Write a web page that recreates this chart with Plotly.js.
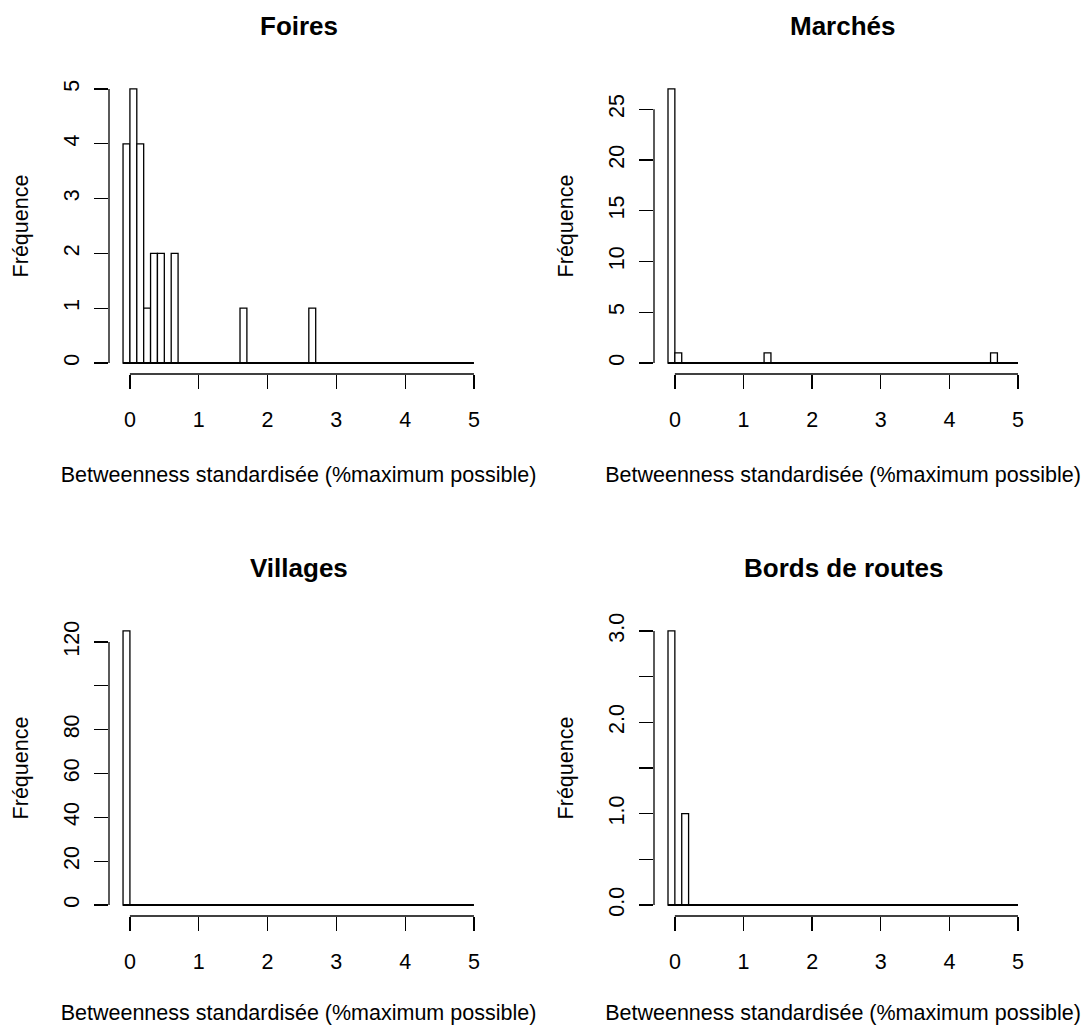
<!DOCTYPE html>
<html><head><meta charset="utf-8">
<script src="https://cdn.plot.ly/plotly-3.0.1.min.js"></script>
<style>html,body{margin:0;padding:0;background:#fff}</style>
</head><body><div id="chart" style="width:1088px;height:1025px"></div>
<script>
// ---- data ----
const panelTitles = ["Foires", "Marchés", "Villages", "Bords de routes"];
const xTitle = "Betweenness standardisée (%maximum possible)";
const yTitle = "Fréquence";
const binWidth = 0.1;
const breakMin = -0.1;
const breakMax = 5.0;
const foiresBins = [-0.1, 0, 0.1, 0.2, 0.3, 0.4, 0.6, 1.6, 2.6];
const foiresCounts = [4, 5, 4, 1, 2, 2, 2, 1, 1];
const marchesBins = [-0.1, 0, 1.3, 4.6];
const marchesCounts = [27, 1, 1, 1];
const villagesBins = [-0.1];
const villagesCounts = [125];
const bordsBins = [-0.1, 0.1];
const bordsCounts = [3, 1];
const xTickVals = [0, 1, 2, 3, 4, 5];
const xTickText = ["0", "1", "2", "3", "4", "5"];
const foiresYTicks = [0, 1, 2, 3, 4, 5];
const foiresYText = ["0", "1", "2", "3", "4", "5"];
const marchesYTicks = [0, 5, 10, 15, 20, 25];
const marchesYText = ["0", "5", "10", "15", "20", "25"];
const villagesYTicks = [0, 20, 40, 60, 80, 100, 120];
const villagesYText = ["0", "20", "40", "60", "80", "", "120"];
const bordsYTicks = [0, 0.5, 1, 1.5, 2, 2.5, 3];
const bordsYText = ["0.0", "", "1.0", "", "2.0", "", "3.0"];

// ---- build ----
const FONT = "Liberation Sans, Arial, Helvetica, sans-serif";
const FS = 21.5;
const panels = [
  {bins: foiresBins, counts: foiresCounts, yt: foiresYTicks, ytt: foiresYText},
  {bins: marchesBins, counts: marchesCounts, yt: marchesYTicks, ytt: marchesYText},
  {bins: villagesBins, counts: villagesCounts, yt: villagesYTicks, ytt: villagesYText},
  {bins: bordsBins, counts: bordsCounts, yt: bordsYTicks, ytt: bordsYText}
];
const W = 1088, H = 1025;
const colPx = [[109, 488], [654, 1032]];
const rowPx = [[78, 374], [620, 916]];

const xPad = 0.04 * (breakMax - breakMin);
const traces = [];
const layout = {
  width: W, height: H,
  margin: {l: 0, r: 0, t: 0, b: 0},
  paper_bgcolor: "#ffffff", plot_bgcolor: "#ffffff",
  showlegend: false, hovermode: false,
  font: {family: FONT, size: FS, color: "#000"},
  shapes: [], annotations: []
};

panels.forEach((p, i) => {
  const n = i + 1;
  const xa = n === 1 ? "x" : "x" + n;
  const ya = n === 1 ? "y" : "y" + n;
  const col = colPx[i % 2], row = rowPx[Math.floor(i / 2)];
  const ymax = Math.max(...p.counts);
  // zero-count bins: flat outline along y = 0 across all breaks
  traces.push({
    type: "scatter", mode: "lines", x: [breakMin, breakMax], y: [0, 0],
    xaxis: xa, yaxis: ya, line: {color: "#000", width: 2}, hoverinfo: "skip"
  });
  traces.push({
    type: "bar", x: p.bins, y: p.counts, width: binWidth, offset: 0,
    xaxis: xa, yaxis: ya,
    marker: {color: "#ffffff", line: {color: "#000", width: 1.3}},
    hoverinfo: "skip"
  });
  layout["xaxis" + (n === 1 ? "" : n)] = {
    domain: [col[0] / W, col[1] / W], anchor: ya,
    range: [breakMin - xPad, breakMax + xPad],
    showgrid: false, zeroline: false, showline: false,
    ticks: "outside", ticklen: 14, tickwidth: 1.3, tickcolor: "#000",
    tickvals: xTickVals, ticktext: xTickText, ticklabelstandoff: 12,
    tickfont: {family: FONT, size: FS, color: "#000"},
    title: {text: xTitle, font: {family: FONT, size: FS, color: "#000"}, standoff: 36},
    automargin: false, fixedrange: true
  };
  layout["yaxis" + (n === 1 ? "" : n)] = {
    domain: [1 - row[1] / H, 1 - row[0] / H], anchor: xa,
    range: [-0.04 * ymax, 1.04 * ymax],
    showgrid: false, zeroline: false, showline: false,
    ticks: "outside", ticklen: 14, tickwidth: 1.3, tickcolor: "#000",
    tickvals: p.yt, ticktext: p.ytt, tickangle: -90, ticklabelstandoff: 6,
    tickfont: {family: FONT, size: FS, color: "#000"},
    title: {text: yTitle, font: {family: FONT, size: FS, color: "#000"}, standoff: 25},
    automargin: false, fixedrange: true
  };
  // R-style axis lines spanning first to last tick
  layout.shapes.push({
    type: "line", xref: xa, yref: ya + " domain",
    x0: xTickVals[0], x1: xTickVals[xTickVals.length - 1], y0: 0, y1: 0,
    line: {color: "#000", width: 1.3}
  });
  layout.shapes.push({
    type: "line", xref: xa + " domain", yref: ya,
    x0: 0, x1: 0, y0: p.yt[0], y1: p.yt[p.yt.length - 1],
    line: {color: "#000", width: 1.3}
  });
  layout.annotations.push({
    text: panelTitles[i], xref: xa + " domain", yref: ya + " domain",
    x: 0.5, y: 1, yshift: 52, xanchor: "center", yanchor: "middle",
    showarrow: false, font: {family: FONT, size: 26, color: "#000", weight: "bold"}
  });
});

Plotly.newPlot("chart", traces, layout, {staticPlot: true, displayModeBar: false});
</script>
</body></html>
